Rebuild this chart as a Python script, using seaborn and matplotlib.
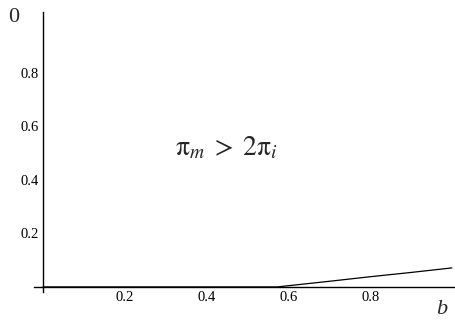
import matplotlib
matplotlib.use("Agg")
import matplotlib.pyplot as plt
import seaborn as sns
import pandas as pd

# boundary curve
b_vals = [0.0, 0.2, 0.4, 0.573, 0.6, 0.7, 0.8, 0.9, 1.0]
theta_vals = [0.0, 0.0, 0.0, 0.0, 0.0045, 0.021, 0.038, 0.054, 0.071]

x_ticks = [0.2, 0.4, 0.6, 0.8]
y_ticks = [0.2, 0.4, 0.6, 0.8]

sns.set_style("white")
plt.rcParams['font.family'] = ['Liberation Serif', 'DejaVu Serif']
plt.rcParams['mathtext.fontset'] = 'stix'

df = pd.DataFrame({"b": b_vals, "theta": theta_vals})

fig = plt.figure(figsize=(4.56, 3.21), dpi=100)
ax = fig.add_axes([0.0746, 0.0903, 0.9254, 0.8723])

sns.lineplot(data=df, x="b", y="theta", color="black", linewidth=0.9, ax=ax)

ax.set_xlim(-0.022, 1.01)
ax.set_ylim(-0.019, 1.026)

ax.spines['left'].set_position(('data', 0))
ax.spines['bottom'].set_position(('data', 0))
ax.spines['right'].set_visible(False)
ax.spines['top'].set_visible(False)
for s in ['left', 'bottom']:
    ax.spines[s].set_linewidth(1.0)
    ax.spines[s].set_color('black')

ax.set_xticks(x_ticks)
ax.set_yticks(y_ticks)
ax.set_xticklabels([f"{t:.1f}" for t in x_ticks], fontsize=10.5, color='black')
ax.set_yticklabels([f"{t:.1f}" for t in y_ticks], fontsize=10.5, color='black')
ax.tick_params(axis='both', direction='in', length=2, width=0.6, pad=3,
               colors='black')

ax.set_xlabel("")
ax.set_ylabel("")

fig.text(0.031, 0.945, "0", fontsize=16, ha='center', va='center')
fig.text(0.969, 0.037, "b", fontsize=16, style='italic', ha='center', va='center')

ax.text(0.449, 0.519, r'$\mathrm{\pi}_m\;>\;2\mathrm{\pi}_i$', fontsize=20,
        ha='center', va='center')

fig.savefig("out.png", dpi=100)
